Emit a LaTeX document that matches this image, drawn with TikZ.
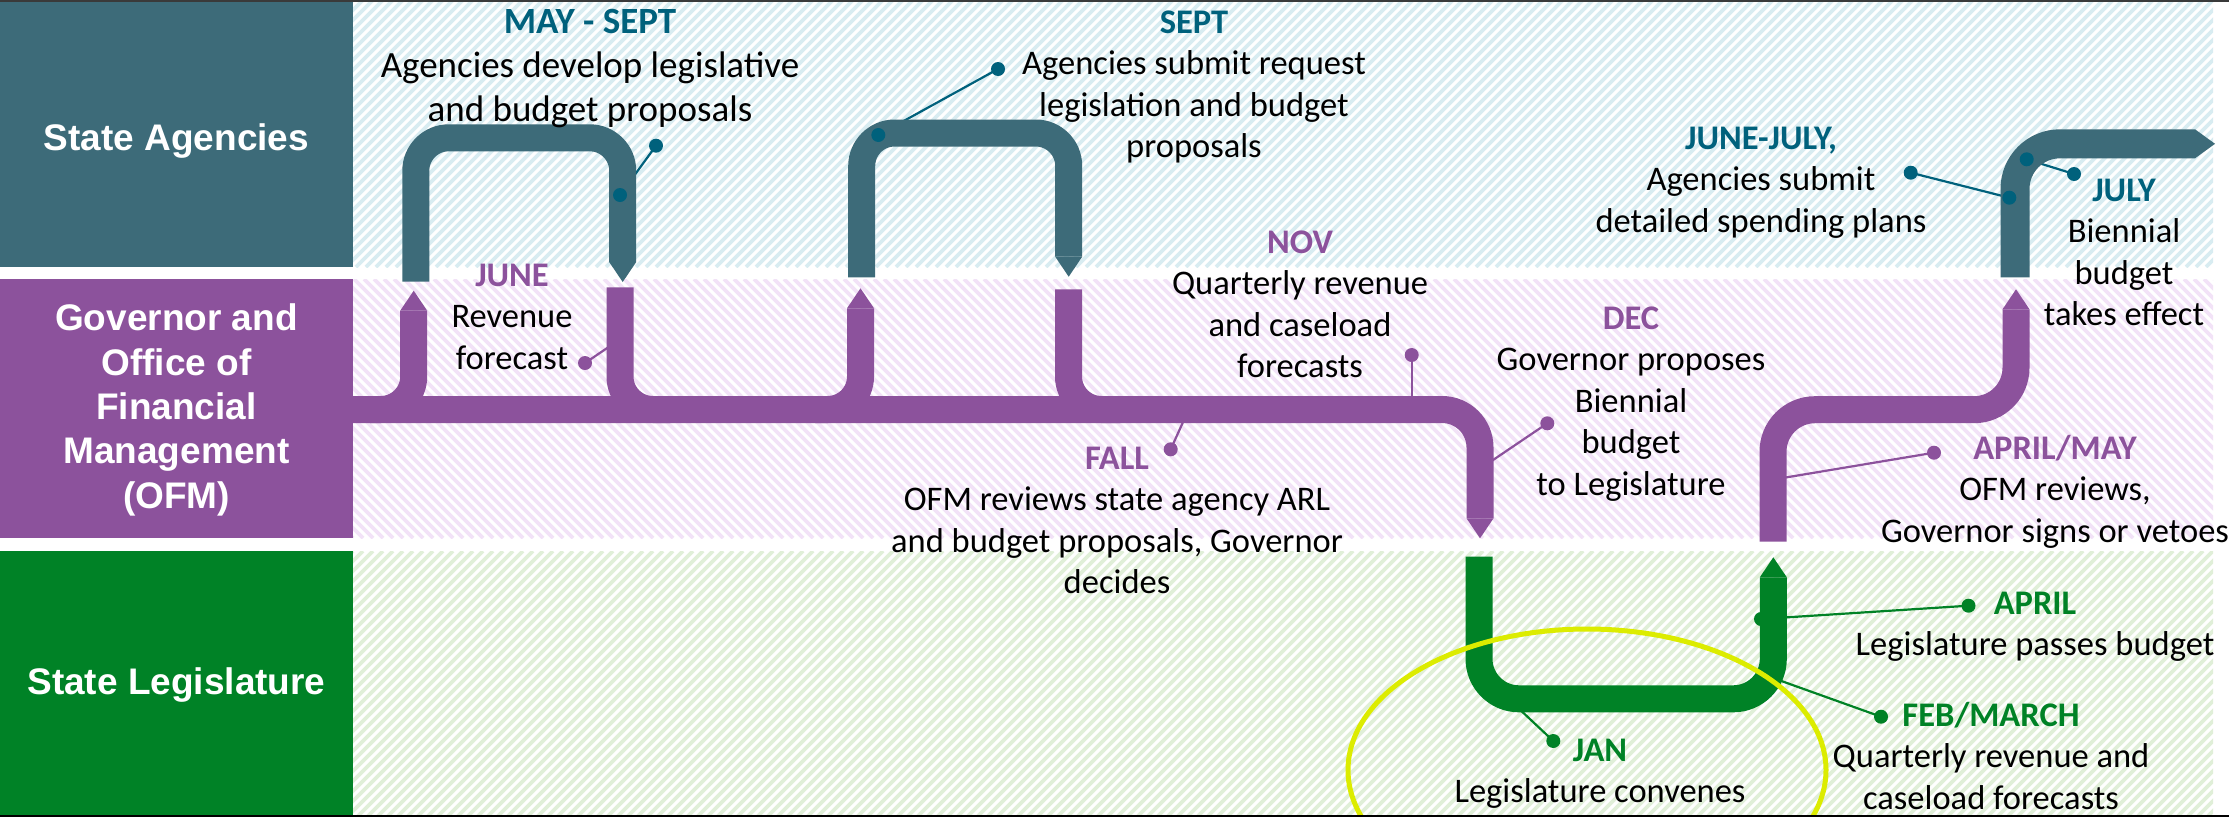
\documentclass[tikz,border=0pt]{standalone}
\usepackage{fontspec}
\setmainfont{Carlito}
\newfontfamily\lanefont{Liberation Sans}
\usetikzlibrary{arrows.meta}
\definecolor{tealbox}{HTML}{3D6B79}
\definecolor{tealtxt}{HTML}{00617C}
\definecolor{purp}{HTML}{8C529C}
\definecolor{grn}{HTML}{008226}
\definecolor{lime}{HTML}{DCEC00}
\definecolor{hteal}{HTML}{D8ECF1}
\definecolor{hpurp}{HTML}{F2E2F7}
\definecolor{hgrn}{HTML}{E0EFD8}
\definecolor{edge}{HTML}{3A3A3A}
\newcommand\evtitle[2]{{\bfseries\color{#1}#2}}
\newcommand\topstr{\rule{0pt}{30pt}}
\begin{document}
\begin{tikzpicture}[x=1pt,y=-1pt,
  lane/.style={minimum width=353pt, inner sep=0pt, text=white, align=center,
    font=\lanefont\bfseries\fontsize{37}{44.3}\selectfont},
  pipe/.style={line width=27pt},
  tipend/.style={-{Triangle[length=20pt,width=#1,line width=0pt]}},
  tipend/.default=27pt,
  lead/.style={line width=2.2pt},
  pdot/.style={circle, fill=#1, inner sep=0pt, minimum size=14pt},
  txt/.style={anchor=north, align=center, inner sep=0pt, font=\fontsize{34.5}{41.5}\selectfont},
  bigtxt/.style={txt, font=\fontsize{37}{44}\selectfont},
  hatch/.style={line width=3.6pt},
]
\useasboundingbox (0,0) rectangle (2229,817);
\fill[white] (0,0) rectangle (2229,817);

% hatched bands
\begin{scope}
  \clip (353,0) rectangle (2213,267);
  \foreach \x in {86,96,...,2216} \draw[hatch, hteal] (\x,267) -- ++(267,-267);
\end{scope}
\begin{scope}
  \clip (353,279) rectangle (2213,538);
  \foreach \x in {94,104,...,2216} \draw[hatch, hpurp] (\x,279) -- ++(259,259);
\end{scope}
\begin{scope}
  \clip (353,551) rectangle (2213,816);
  \foreach \x in {88,98,...,2216} \draw[hatch, hgrn] (\x,816) -- ++(265,-265);
\end{scope}

% lane boxes
\fill[tealbox] (0,0) rectangle (353,267);
\fill[purp] (0,279) rectangle (353,538);
\fill[grn] (0,551) rectangle (353,816);
\node[lane] (sa) at (176.5,141.5) {State Agencies};
\node[lane] (gov) at (176.5,410) {Governor and\\Office of\\Financial\\Management\\(OFM)};
\node[lane] (leg) at (176.5,685.5) {State Legislature};

% leader-line anchor points
\coordinate (p1a) at (620,195);
\coordinate (p1b) at (656,145.7);
\coordinate (p2a) at (878.3,135);
\coordinate (p2b) at (998,69);
\coordinate (pjun) at (585,363);
\coordinate (pjunE) at (622,338);
\coordinate (pnov) at (1411.7,355);
\coordinate (pnovE) at (1411.7,409.5);
\coordinate (pfall) at (1170.7,449.3);
\coordinate (pfallE) at (1188.7,409.5);
\coordinate (pdec) at (1547.3,423.3);
\coordinate (pdecE) at (1480,468.8);
\coordinate (pjj) at (1910.7,172.7);
\coordinate (pjjE) at (2009.3,197.7);
\coordinate (pjulE) at (2026.7,159.3);
\coordinate (pjul) at (2074,174);
\coordinate (pam) at (1934,452.7);
\coordinate (pamE) at (1773,479.6);
\coordinate (papr) at (1968.5,605.7);
\coordinate (paprE) at (1761,619);
\coordinate (pfeb) at (1881,716.7);
\coordinate (pfebE) at (1773,678);
\coordinate (pjan) at (1553.3,741);
\coordinate (pjanE) at (1515,705);

% leader lines (under the pipes)
\draw[lead, tealtxt] (p1a) -- (p1b);
\draw[lead, tealtxt] (p2a) -- (p2b);
\draw[lead, purp] (pjun) -- (pjunE);
\draw[lead, purp] (pnov) -- (pnovE);
\draw[lead, purp] (pfall) -- (pfallE);
\draw[lead, purp] (pdec) -- (pdecE);
\draw[lead, tealtxt] (pjj) -- (pjjE);
\draw[lead, tealtxt] (pjulE) -- (pjul);
\draw[lead, purp] (pam) -- (pamE);
\draw[lead, grn] (papr) -- (paprE);
\draw[lead, grn] (pfeb) -- (pfebE);
\draw[lead, grn] (pjan) -- (pjanE);
\node[pdot=grn] (dapr2) at (paprE) {};

% pipe points
\coordinate (a1l) at (415.8,281.7);
\coordinate (a1lt) at (415.8,137.8);
\coordinate (a1rt) at (622.7,137.8);
\coordinate (a1r) at (622.7,282);
\coordinate (a2l) at (861.7,277.3);
\coordinate (a2lt) at (861.7,133);
\coordinate (a2rt) at (1068.7,133);
\coordinate (a2r) at (1068.7,276.7);
\coordinate (m0) at (353,409.5);
\coordinate (m1) at (1480,409.5);
\coordinate (m2) at (1480,538.3);
\coordinate (u0) at (1479,556.7);
\coordinate (u1) at (1479,698.8);
\coordinate (u2) at (1773.3,698.8);
\coordinate (u3) at (1773.3,557.3);
\coordinate (r0) at (1773,541.7);
\coordinate (r1) at (1773,409.7);
\coordinate (r2) at (2016,409.7);
\coordinate (r3) at (2016,289.3);
\coordinate (f0) at (2015,277.3);
\coordinate (f1) at (2015,143.8);
\coordinate (f2) at (2215,143.8);

% teal arches
\draw[pipe, tealbox, rounded corners=33pt, tipend] (a1l) -- (a1lt) -- (a1rt) -- (a1r);
\draw[pipe, tealbox, rounded corners=33pt, tipend] (a2l) -- (a2lt) -- (a2rt) -- (a2r);
% purple main line and branches
\draw[pipe, purp, rounded corners=38pt, tipend] (m0) -- (m1) -- (m2);
\draw[pipe, purp, rounded corners=33pt, tipend] (370,409.5) -- (413.7,409.5) -- (413.7,290.7);
\draw[pipe, purp, rounded corners=33pt] (620,287.3) -- (620,409.5) -- (670,409.5);
\draw[pipe, purp, rounded corners=33pt, tipend] (815,409.5) -- (860.5,409.5) -- (860.5,288.3);
\draw[pipe, purp, rounded corners=33pt] (1068.5,289.3) -- (1068.5,409.5) -- (1120,409.5);
% green U
\draw[pipe, grn, rounded corners=40pt, tipend] (u0) -- (u1) -- (u2) -- (u3);
% purple rise
\draw[pipe, purp, rounded corners=42pt, tipend] (r0) -- (r1) -- (r2) -- (r3);
% final teal
\draw[pipe, tealbox, line width=29pt, rounded corners=45pt, tipend=29pt] (f0) -- (f1) -- (f2);

% dots
\node[pdot=tealtxt] (d1a) at (p1a) {};
\node[pdot=tealtxt] (d1b) at (p1b) {};
\node[pdot=tealtxt] (d2a) at (p2a) {};
\node[pdot=tealtxt] (d2b) at (p2b) {};
\node[pdot=purp] (djun) at (pjun) {};
\node[pdot=purp] (dnov) at (pnov) {};
\node[pdot=purp] (dfall) at (pfall) {};
\node[pdot=purp] (ddec) at (pdec) {};
\node[pdot=tealtxt] (djj) at (pjj) {};
\node[pdot=tealtxt] (djjE) at (pjjE) {};
\node[pdot=tealtxt] (djulE) at (pjulE) {};
\node[pdot=tealtxt] (djul) at (pjul) {};
\node[pdot=purp] (dam) at (pam) {};
\node[pdot=grn] (dapr) at (papr) {};
\node[pdot=grn] (dfeb) at (pfeb) {};
\node[pdot=grn] (djan) at (pjan) {};

% highlight ellipse
\begin{scope}
  \clip (0,0) rectangle (2229,816);
  \draw[lime, line width=5pt] (1587,770) ellipse [x radius=239, y radius=141];
\end{scope}

% texts
\node[bigtxt] (t1) at (590,3) {\topstr\evtitle{tealtxt}{MAY - SEPT}\\Agencies develop legislative\\and budget proposals};
\node[txt] (t2) at (1194,3) {\topstr\evtitle{tealtxt}{SEPT}\\Agencies submit request\\legislation and budget\\proposals};
\node[txt] (t3) at (512,256) {\topstr\evtitle{purp}{JUNE}\\Revenue\\forecast};
\node[txt] (t4) at (1300,223) {\topstr\evtitle{purp}{NOV}\\Quarterly revenue\\and caseload\\forecasts};
\node[txt] (t5) at (1631,299) {\topstr\evtitle{purp}{DEC}\\Governor proposes\\Biennial\\budget\\to Legislature};
\node[txt] (t6) at (1117,439) {\topstr\evtitle{purp}{FALL}\\OFM reviews state agency ARL\\and budget proposals, Governor\\decides};
\node[txt] (t7) at (1761,119) {\topstr\evtitle{tealtxt}{JUNE-JULY,}\\Agencies submit\\detailed spending plans};
\node[txt] (t8) at (2124,171) {\topstr\evtitle{tealtxt}{JULY}\\Biennial\\budget\\takes effect};
\node[txt] (t9) at (2055,429) {\topstr\evtitle{purp}{APRIL/MAY}\\OFM reviews,\\Governor signs or vetoes};
\node[txt] (t10) at (2035,584) {\topstr\evtitle{grn}{APRIL}\\Legislature passes budget};
\node[txt] (t11) at (1991,696) {\topstr\evtitle{grn}{FEB/MARCH}\\Quarterly revenue and\\caseload forecasts};
\node[txt] (t12) at (1600,731) {\topstr\evtitle{grn}{JAN}\\Legislature convenes};

% frame lines
\fill[edge] (0,0) rectangle (2229,1.5);
\fill[black] (0,815) rectangle (2229,817);
\end{tikzpicture}
\end{document}
